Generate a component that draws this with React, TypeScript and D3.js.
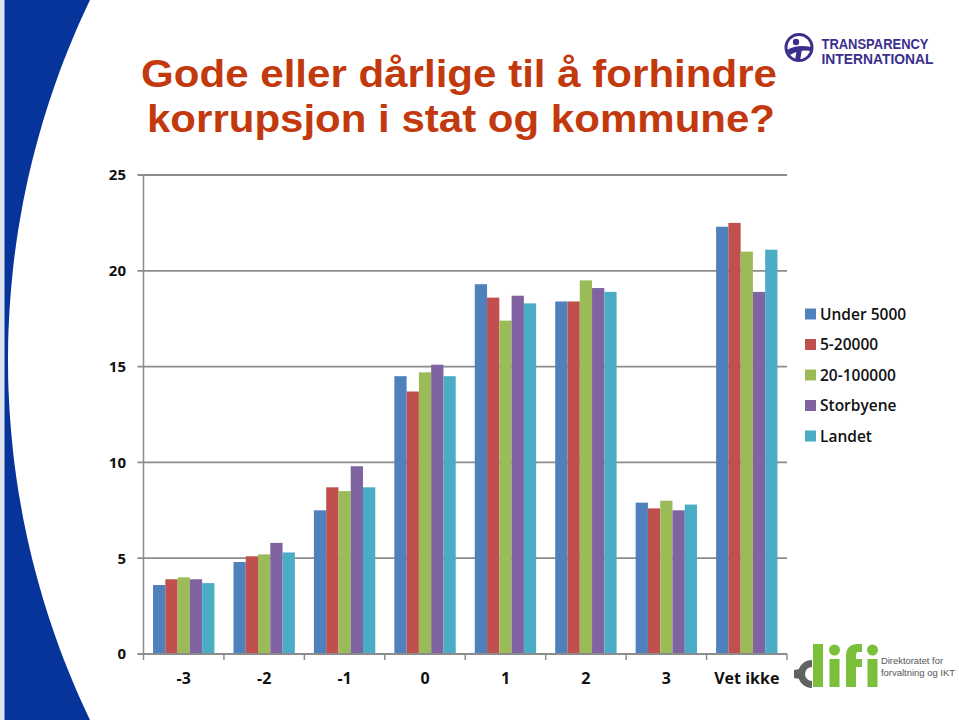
import React from "react";
import * as d3 from "d3";

const categories = ["-3", "-2", "-1", "0", "1", "2", "3", "Vet ikke"];
const seriesNames = ["Under 5000", "5-20000", "20-100000", "Storbyene", "Landet"];
const seriesColors = ["#4f81bd", "#c0504d", "#9bbb59", "#8064a2", "#4bacc6"];
const under5000 = [3.6, 4.8, 7.5, 14.5, 19.3, 18.4, 7.9, 22.3];
const s5to20000 = [3.9, 5.1, 8.7, 13.7, 18.6, 18.4, 7.6, 22.5];
const s20to100000 = [4.0, 5.2, 8.5, 14.7, 17.4, 19.5, 8.0, 21.0];
const storbyene = [3.9, 5.8, 9.8, 15.1, 18.7, 19.1, 7.5, 18.9];
const landet = [3.7, 5.3, 8.7, 14.5, 18.3, 18.9, 7.8, 21.1];
const seriesValues = [under5000, s5to20000, s20to100000, storbyene, landet];
const yTicks = [0, 5, 10, 15, 20, 25];
const titleLines = ["Gode eller dårlige til å forhindre", "korrupsjon i stat og kommune?"];

const W = 959;
const H = 720;
const plotLeft = 143.5;
const plotRight = 787;
const plotTop = 175;
const plotBottom = 654;

export default function App() {
  const y = d3.scaleLinear().domain([0, 25]).range([plotBottom, plotTop]);
  const x0 = d3
    .scaleBand<string>()
    .domain(categories)
    .range([plotLeft, plotRight])
    .paddingInner(0.237)
    .paddingOuter(0.1185);
  const x1 = d3
    .scaleBand<string>()
    .domain(seriesNames)
    .range([0, x0.bandwidth()])
    .padding(0);
  const step = x0.step();
  const tickXs = d3.range(categories.length + 1).map((i) => plotLeft + i * step);

  // left decorative band: circle arc
  const r = 831;
  const cx = 839;
  const arcPts: [number, number][] = d3.range(0, 721, 10).map((yy) => {
    const dy = yy - 360;
    return [cx - Math.sqrt(r * r - dy * dy), yy];
  });
  const bandPath =
    "M4.5,0 L" + arcPts.map((p) => p[0].toFixed(1) + "," + p[1]).join(" L") + " L4.5,720 Z";

  const grid = "#8c8c8c";
  const font = "'Open Sans', 'DejaVu Sans', sans-serif";

  return (
    <svg
      width={W}
      height={H}
      style={{ position: "absolute", left: 0, top: 0, background: "#fff" }}
    >
      <rect x={0} y={0} width={W} height={H} fill="#fff" />
      <rect x={0} y={0} width={5} height={H} fill="#dde3ee" />
      <path d={bandPath} fill="#07349a" />

      {/* Title */}
      <g fill="#c2390e" fontFamily="'Liberation Sans', Arial, sans-serif" fontWeight="bold" fontSize={39.5}>
        <text x={141} y={87} textLength={636} lengthAdjust="spacingAndGlyphs">
          {titleLines[0]}
        </text>
        <text x={147} y={132} textLength={628} lengthAdjust="spacingAndGlyphs">
          {titleLines[1]}
        </text>
      </g>

      {/* Transparency International logo */}
      <g>
        <circle cx={799} cy={47.5} r={14.5} fill="#3b2f8e" />
        <circle cx={799} cy={47.5} r={11.5} fill="#fff" />
        <circle cx={796} cy={42} r={3.2} fill="#3b2f8e" />
        <path d="M787,50 Q797,44 811,47 L811,51 Q800,49 790,55 Z" fill="#3b2f8e" />
        <path d="M797,49 L802,49 L800,61 L795,60 Z" fill="#3b2f8e" />
        <g fill="#3b2f8e" fontFamily="'Liberation Sans', Arial, sans-serif" fontWeight="bold" fontSize={14}>
          <text x={821.5} y={48.5} textLength={107} lengthAdjust="spacingAndGlyphs">TRANSPARENCY</text>
          <text x={821.5} y={63.5} textLength={112} lengthAdjust="spacingAndGlyphs">INTERNATIONAL</text>
        </g>
      </g>

      {/* Gridlines */}
      {yTicks.map((t) => (
        <line key={"g" + t} x1={plotLeft - 6} x2={plotRight} y1={y(t)} y2={y(t)} stroke={grid} strokeWidth={1.8} />
      ))}
      <line x1={plotLeft} x2={plotLeft} y1={plotTop} y2={plotBottom} stroke={grid} strokeWidth={1.5} />
      {tickXs.map((tx, i) => (
        <line key={"xt" + i} x1={tx} x2={tx} y1={plotBottom} y2={plotBottom + 6} stroke={grid} strokeWidth={1.5} />
      ))}

      {/* Y labels */}
      {yTicks.map((t) => (
        <text
          key={"yl" + t}
          x={126}
          y={y(t)}
          dy="0.36em"
          textAnchor="end"
          fontFamily={font}
          fontWeight={700}
          fontSize={15}
          fill="#111"
        >
          {t}
        </text>
      ))}

      {/* Bars */}
      {categories.map((c, ci) => (
        <g key={c} transform={`translate(${x0(c)},0)`}>
          {seriesNames.map((s, si) => {
            const v = seriesValues[si][ci];
            return (
              <rect
                key={s}
                x={x1(s)}
                y={y(v)}
                width={x1.bandwidth()}
                height={plotBottom - y(v)}
                fill={seriesColors[si]}
              />
            );
          })}
        </g>
      ))}
      <line x1={plotLeft} x2={plotRight} y1={plotBottom} y2={plotBottom} stroke={grid} strokeWidth={1.8} />

      {/* X labels */}
      {categories.map((c) => (
        <text
          key={"xl" + c}
          x={(x0(c) as number) + x0.bandwidth() / 2}
          y={684}
          textAnchor="middle"
          fontFamily={font}
          fontWeight={700}
          fontSize={16}
          fill="#111"
        >
          {c}
        </text>
      ))}

      {/* Legend */}
      {seriesNames.map((s, i) => {
        const ly = 314 + i * 30.5;
        return (
          <g key={"lg" + s}>
            <rect x={805} y={ly - 5.5} width={11} height={11} fill={seriesColors[i]} />
            <text x={820} y={ly} dy="0.36em" fontFamily={font} fontWeight={600} fontSize={15.5} fill="#111">
              {s}
            </text>
          </g>
        );
      })}

      {/* difi logo */}
      <g>
        <path d="M812,660 A14,14 0 0,0 812,688 L812,681 A7,7 0 0,1 812,667 Z" fill="#616262" />
        <path d="M800,669 L794,670 L794,678 L800,679 Z" fill="#616262" />
        <rect x={813} y={644} width={10} height={43} fill="#7bbf3b" />
        <circle cx={834.5} cy={650} r={5.5} fill="#7bbf3b" />
        <rect x={829.5} y={659} width={10} height={28} fill="#7bbf3b" />
        <path d="M846,687 L846,656 Q846,644 858,644 L862,644 L862,652 L858,652 Q856,652 856,656 L856,659 L862,659 L862,667 L856,667 L856,687 Z" fill="#7bbf3b" />
        <circle cx={872.5} cy={650} r={5.5} fill="#7bbf3b" />
        <rect x={867.5} y={659} width={10} height={28} fill="#7bbf3b" />
        <g fontFamily="'Liberation Sans', Arial, sans-serif" fontSize={9.5} fill="#555">
          <text x={881} y={664} textLength={62} lengthAdjust="spacingAndGlyphs">Direktoratet for</text>
          <text x={881} y={676} textLength={74} lengthAdjust="spacingAndGlyphs">forvaltning og IKT</text>
        </g>
      </g>
    </svg>
  );
}
